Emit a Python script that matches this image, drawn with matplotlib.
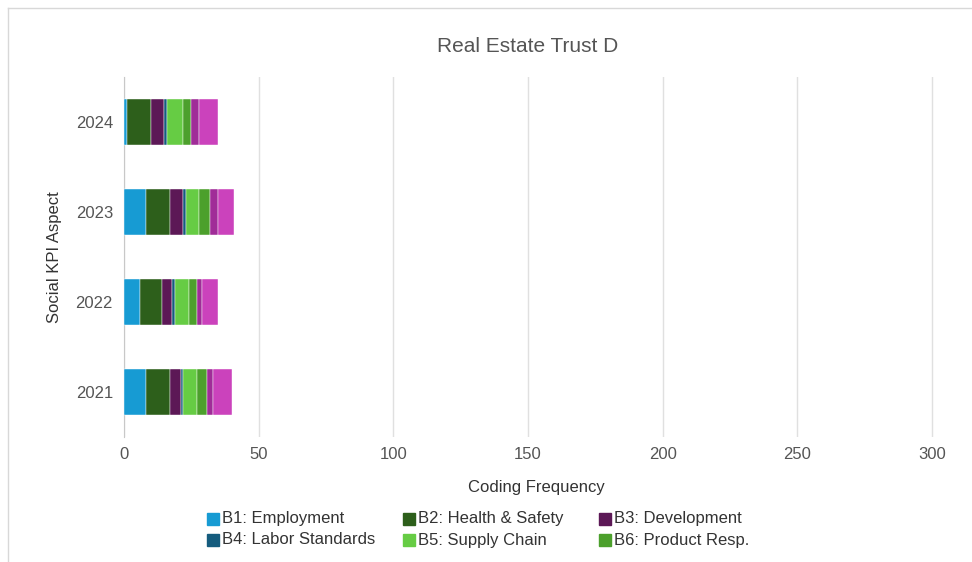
import matplotlib
matplotlib.use('Agg')
import matplotlib.pyplot as plt
from matplotlib.patches import Rectangle
from matplotlib.lines import Line2D

plt.rcParams['font.family'] = ['Liberation Sans', 'DejaVu Sans']

# Datos: frecuencia de codificacion por aspecto social y año
years = ['2021', '2022', '2023', '2024']
aspects = ['B1: Employment', 'B2: Health & Safety', 'B3: Development',
           'B4: Labor Standards', 'B5: Supply Chain', 'B6: Product Resp.',
           'B7: Community', 'B8: Other']
b1 = [8, 6, 8, 1]
b2 = [9, 8, 9, 9]
b3 = [4, 4, 5, 5]
b4 = [1, 1, 1, 1]
b5 = [5, 5, 5, 6]
b6 = [4, 3, 4, 3]
b7 = [2, 2, 3, 3]
b8 = [7, 6, 6, 7]
series = [b1, b2, b3, b4, b5, b6, b7, b8]
colors = ['#179bd3', '#2d5f1b', '#5c1856', '#155c7e',
          '#66cc44', '#4ca02c', '#a02c98', '#cb42bc']

W, H = 972, 562
fig = plt.figure(figsize=(W / 100, H / 100), dpi=100)
x0, x300 = 124, 932
xmax = 306
ax = fig.add_axes([x0 / W, 1 - 437 / H, (x300 - x0) / 300 * xmax / W, 360 / H])

left = [0] * len(years)
for vals, col, lab in zip(series, colors, aspects):
    ax.barh(years, vals, left=left, height=0.51, color=col, label=lab,
            edgecolor='white', linewidth=0.3, zorder=3)
    left = [l + v for l, v in zip(left, vals)]

ax.set_xlim(0, xmax)
ax.set_ylim(-0.5, 3.5)
ax.set_xticks([0, 50, 100, 150, 200, 250, 300])
ax.grid(axis='x', color='#e0e0e0', linewidth=1, zorder=0)
ax.tick_params(axis='x', length=0, labelsize=12, labelcolor='#555555', pad=7)
ax.tick_params(axis='y', length=0, labelsize=12, labelcolor='#555555', pad=8)
for s in ['top', 'right', 'bottom']:
    ax.spines[s].set_visible(False)
ax.spines['left'].set_color('#c8c8c8')

fig.text((x0 + x300) / 2 / W, 1 - 47 / H, 'Real Estate Trust D',
         fontsize=15, color='#555555', ha='center', va='center')
ax.set_xlabel('Coding Frequency', fontsize=12, color='#333333', labelpad=13)
ax.set_ylabel('Social KPI Aspect', fontsize=12, color='#333333', labelpad=10)

# leyenda en dos filas, tres columnas (orden por filas)
col_x = [207, 403, 599]
row_y = [519, 540]
for i in range(6):
    px = col_x[i % 3]
    py = row_y[i // 3]
    fig.patches.append(Rectangle((px / W, 1 - (py + 6) / H), 12 / W, 12 / H,
                                 transform=fig.transFigure,
                                 color=colors[i]))
    fig.text((px + 15) / W, 1 - py / H, aspects[i], fontsize=12,
             color='#333333', ha='left', va='center')

# marco gris claro (arriba e izquierda)
fig.add_artist(Line2D([7.5 / W, 7.5 / W], [0, 1 - 7.5 / H],
                      transform=fig.transFigure, color='#d8d8d8', lw=1))
fig.add_artist(Line2D([7.5 / W, 1], [1 - 7.5 / H, 1 - 7.5 / H],
                      transform=fig.transFigure, color='#d8d8d8', lw=1))

fig.savefig('out.png', dpi=100)
